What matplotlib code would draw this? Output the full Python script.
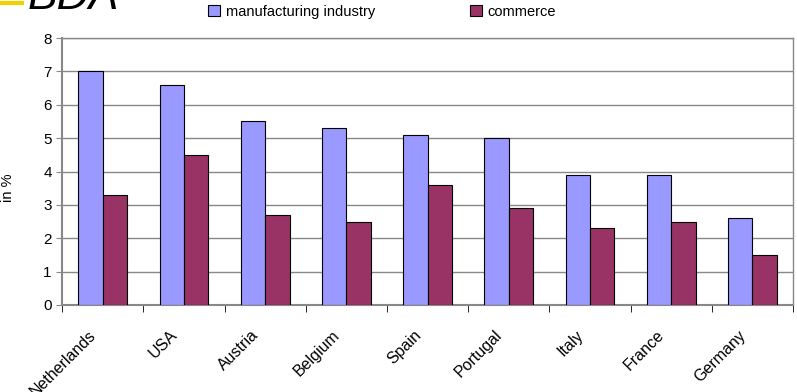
import numpy as np
import matplotlib
matplotlib.use("Agg")
import matplotlib.pyplot as plt
from matplotlib.transforms import ScaledTranslation

plt.rcParams['font.family'] = ['Liberation Sans', 'DejaVu Sans']

countries = ["Netherlands", "USA", "Austria", "Belgium", "Spain",
             "Portugal", "Italy", "France", "Germany"]
manufacturing = [7.0, 6.6, 5.5, 5.3, 5.1, 5.0, 3.9, 3.9, 2.6]
commerce = [3.3, 4.5, 2.7, 2.5, 3.6, 2.9, 2.3, 2.5, 1.5]

fig = plt.figure(figsize=(7.97, 3.92), dpi=100)
ax = fig.add_axes([0.078, 0.222, 0.917, 0.681])

x = np.arange(len(countries))
w = 0.3
ax.bar(x - w/2, manufacturing, w, color="#9999FF", edgecolor="black", linewidth=0.8,
       label="manufacturing industry", zorder=3)
ax.bar(x + w/2, commerce, w, color="#993366", edgecolor="black", linewidth=0.8,
       label="commerce", zorder=3)

ax.set_xlim(-0.5, len(countries) - 0.5)
ax.set_ylim(0, 8)
ax.set_yticks(range(0, 9))
ax.yaxis.grid(True, color="#888888", linewidth=1, zorder=0)
ax.tick_params(axis="y", labelsize=11, length=4, color="#888888")

ax.set_xticks(x)
ax.set_xticklabels(countries, rotation=45, ha="right", va="center",
                   rotation_mode="anchor", fontsize=11.5)
ax.tick_params(axis="x", which="major", length=0, pad=20)
shift = ScaledTranslation(-0.09, 0, fig.dpi_scale_trans)
for lab in ax.get_xticklabels():
    lab.set_transform(lab.get_transform() + shift)
ax.set_xticks(np.arange(-0.5, len(countries)), minor=True)
ax.tick_params(axis="x", which="minor", length=5, color="black")

for s in ["left", "bottom", "right", "top"]:
    ax.spines[s].set_color("#888888")
    ax.spines[s].set_linewidth(1.5 if s in ("left", "bottom") else 1)

ax.set_ylabel("in %", fontsize=10.5)
ax.yaxis.set_label_coords(-0.064, 0.44)

ax.legend(loc="lower left", bbox_to_anchor=(0.19, 1.045), ncol=2, frameon=False,
          fontsize=10.5, handlelength=0.8, handleheight=0.8, columnspacing=6.5,
          handletextpad=0.4, borderaxespad=0.1)

# logo remnant at top left
fig.add_artist(plt.Line2D([0.0, 0.027], [0.993, 0.993], color="#F5D000", linewidth=3))
fig.text(0.035, 0.977, "BDA", fontsize=32, style="italic", va="baseline", ha="left",
         fontweight="light")

fig.savefig("out.png", dpi=100)
